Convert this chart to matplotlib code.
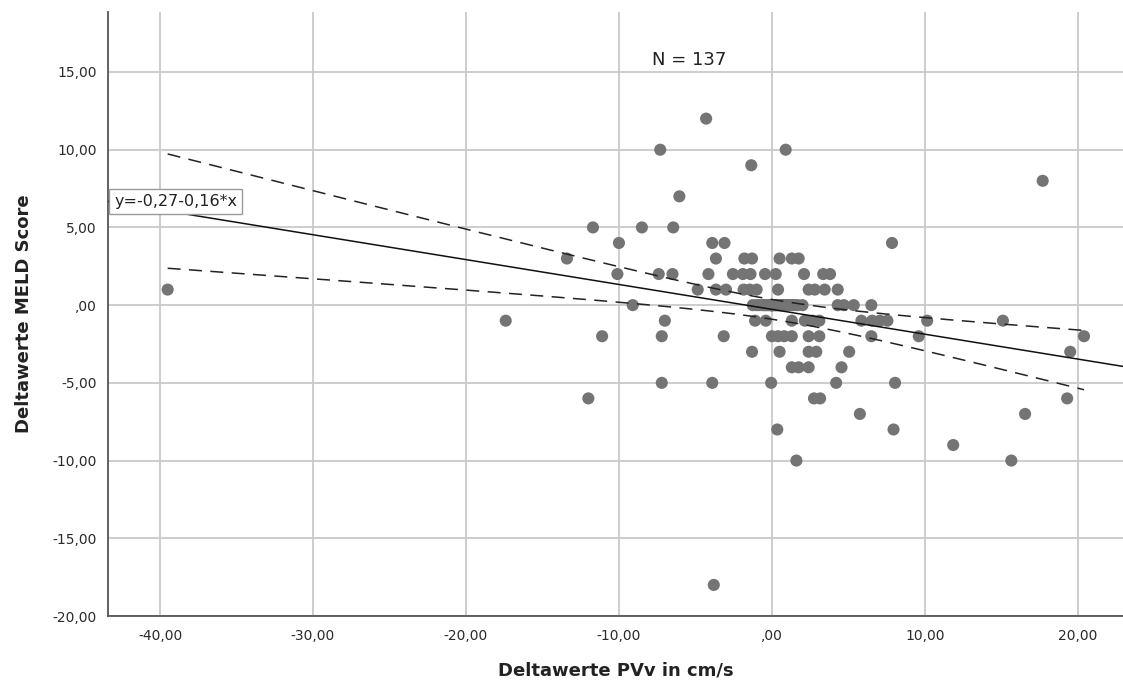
import numpy as np
import matplotlib
matplotlib.use("Agg")
import matplotlib.pyplot as plt
from matplotlib.ticker import FuncFormatter

# ---- data ----
delta_pvv = [
    -4.3,                                                        # 12
    -7.3, 0.9,                                                   # 10
    -1.35,                                                       # 9
    17.7,                                                        # 8
    -6.05,                                                       # 7
    -11.7, -8.5, -6.45,                                          # 5
    -10.0, -3.9, -3.1, 7.85,                                     # 4
    -13.4, -3.66, -1.8, -1.3, 0.5, 1.3, 1.75,                    # 3
    -10.1, -7.4, -6.5, -4.15, -2.55, -1.9, -1.4, -0.45, 0.25, 2.1, 3.35, 3.8,   # 2
    -39.5, -4.85, -3.66, -3.0, -1.85, -1.45, -1.0, 0.4, 2.4, 2.8, 3.45, 4.3,    # 1
    -9.1, -1.25, -1.0, -0.8, -0.6, -0.5, -0.4, -0.3, -0.2, -0.1,
    0.0, 0.0, 0.0, 0.0, 0.0, 0.0, 0.0, 0.1, 0.2, 0.25,
    0.3, 0.4, 0.45, 0.5, 0.6, 0.65, 0.7, 0.8, 0.9, 1.0,
    1.1, 1.2, 1.35, 1.5, 1.7, 2.0, 4.3, 4.7, 5.35, 6.5,          # 0
    -17.4, -7.0, -1.1, -0.4, 1.3, 2.15, 2.65, 3.1, 5.85, 6.55, 7.05, 7.55, 10.15, 15.1,  # -1
    -11.1, -7.2, -3.15, 0.0, 0.4, 0.8, 1.3, 2.4, 3.1, 6.5, 9.6, 20.4,           # -2
    -1.3, 0.5, 2.4, 2.9, 5.05, 19.5,                             # -3
    1.3, 1.75, 2.4, 4.55,                                        # -4
    -7.2, -3.9, -0.05, 4.2, 8.05,                                # -5
    -12.0, 2.75, 3.15, 19.3,                                     # -6
    5.75, 16.55,                                                 # -7
    0.35, 7.95,                                                  # -8
    11.85,                                                       # -9
    1.6, 15.65,                                                  # -10
    -3.8,                                                        # -18
]
delta_meld = [
    12,
    10, 10,
    9,
    8,
    7,
    5, 5, 5,
    4, 4, 4, 4,
    3, 3, 3, 3, 3, 3, 3,
    2, 2, 2, 2, 2, 2, 2, 2, 2, 2, 2, 2,
    1, 1, 1, 1, 1, 1, 1, 1, 1, 1, 1, 1,
    0, 0, 0, 0, 0, 0, 0, 0, 0, 0,
    0, 0, 0, 0, 0, 0, 0, 0, 0, 0,
    0, 0, 0, 0, 0, 0, 0, 0, 0, 0,
    0, 0, 0, 0, 0, 0, 0, 0, 0, 0,
    -1, -1, -1, -1, -1, -1, -1, -1, -1, -1, -1, -1, -1, -1,
    -2, -2, -2, -2, -2, -2, -2, -2, -2, -2, -2, -2,
    -3, -3, -3, -3, -3, -3,
    -4, -4, -4, -4,
    -5, -5, -5, -5, -5,
    -6, -6, -6, -6,
    -7, -7,
    -8, -8,
    -9,
    -10, -10,
    -18,
]
fit_intercept = -0.27
fit_slope = -0.16
fit_label = "y=-0,27-0,16*x"
n_label = "N = 137"
x_ticks = [-40, -30, -20, -10, 0, 10, 20]
y_ticks = [-20, -15, -10, -5, 0, 5, 10, 15]

x = np.array(delta_pvv, dtype=float)
y = np.array(delta_meld, dtype=float)
n = len(x)

# ---- figure ----
plt.rcParams['font.family'] = ['DejaVu Sans']
fig = plt.figure(figsize=(11.23, 6.84), dpi=100)
ax = fig.add_axes([108 / 1123, 1 - 616 / 684, 1 - 108 / 1123, (616 - 12) / 684])

xmin, xmax = -43.4, 22.95
ymin, ymax = -20.0, 18.86
ax.set_xlim(xmin, xmax)
ax.set_ylim(ymin, ymax)

ax.grid(True, color='#c9c9c9', linewidth=1.3, zorder=0)
ax.set_axisbelow(True)
ax.set_xticks(x_ticks)
ax.set_yticks(y_ticks)


def spss_fmt(v, pos=None):
    if abs(v) < 1e-9:
        return ",00"
    return f"{v:.2f}".replace('.', ',')


ax.xaxis.set_major_formatter(FuncFormatter(spss_fmt))
ax.yaxis.set_major_formatter(FuncFormatter(spss_fmt))
ax.tick_params(axis='both', length=0, labelsize=10, labelcolor='#2a2a2a')
ax.tick_params(axis='x', pad=9)
ax.tick_params(axis='y', pad=8)

for side in ('top', 'right'):
    ax.spines[side].set_visible(False)
for side in ('left', 'bottom'):
    ax.spines[side].set_color('#555555')
    ax.spines[side].set_linewidth(1.3)

ax.scatter(x, y, s=76, color='#747474', edgecolors='none', zorder=2)

# regression line across the whole axis
xl = np.array([xmin, xmax])
ax.plot(xl, fit_intercept + fit_slope * xl, color='#111111', linewidth=1.1, zorder=3)

# 95% confidence band of the mean (over the data range)
resid = y - (fit_intercept + fit_slope * x)
s = np.sqrt(np.sum(resid ** 2) / (n - 2))
xbar = x.mean()
sxx = np.sum((x - xbar) ** 2)
t_crit = 1.978
xc = np.linspace(x.min(), x.max(), 300)
yc = fit_intercept + fit_slope * xc
half = t_crit * s * np.sqrt(1.0 / n + (xc - xbar) ** 2 / sxx)
for band in (yc + half, yc - half):
    ax.plot(xc, band, color='#222222', linewidth=1.1, linestyle=(0, (8.5, 5.5)), zorder=3)

ax.annotate(fit_label, xy=(xmin, fit_intercept + fit_slope * xmin),
            xytext=(4.5, 0), textcoords='offset points', ha='left', va='center',
            fontsize=11.5, color='#222222', zorder=5,
            bbox=dict(boxstyle='square,pad=0.3', facecolor='white', edgecolor='#9a9a9a', linewidth=1.0))

ax.text(-5.4, 15.75, n_label, ha='center', va='center', fontsize=13, color='#222222')

ax.set_xlabel("Deltawerte PVv in cm/s", fontsize=13, fontweight='bold', color='#222222', labelpad=14)
ax.set_ylabel("Deltawerte MELD Score", fontsize=13, fontweight='bold', color='#222222', labelpad=14)

fig.savefig("out.png", dpi=100)
